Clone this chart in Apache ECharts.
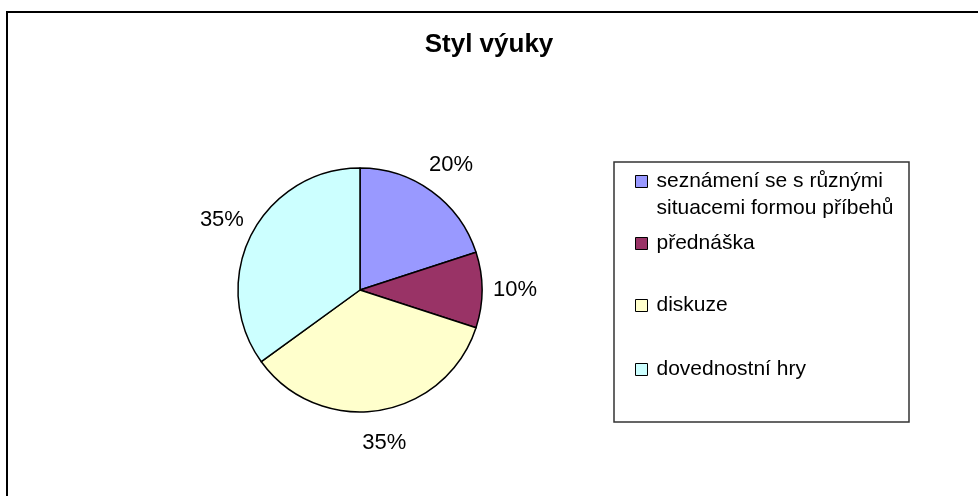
<!DOCTYPE html>
<html lang="cs">
<head>
  <meta charset="utf-8">
  <title>Styl výuky</title>
  <script src="https://cdn.jsdelivr.net/npm/echarts@6/dist/echarts.min.js"></script>
  <style>
    html, body { margin: 0; padding: 0; background: #fff; }
  </style>
</head>
<body>
<div id="main" style="width: 978px;height:496px;"></div>
<script type="text/javascript">
    // data
    var categories = ['seznámení se s různými situacemi formou příbehů', 'přednáška', 'diskuze', 'dovednostní hry'];
    var values = [20, 10, 35, 35];
    var colors = ['#9999FF', '#993366', '#FFFFCC', '#CCFFFF'];
    // leading blank line keeps the icon level with the first text line
    var legendLabels = ['\nseznámení se s různými\nsituacemi formou příbehů', 'přednáška', 'diskuze', 'dovednostní hry'];

    var font = '"Liberation Sans", Arial, sans-serif';
    var pieData = [];
    var ringData = [];
    for (var i = 0; i < categories.length; i++) {
        pieData.push({ name: categories[i], value: values[i], itemStyle: { color: colors[i] } });
        ringData.push({ name: categories[i], value: values[i] });
    }

    // one legend per item so the spacing follows the picture
    var legendTops = [141, 230, 292, 356];
    var legends = [];
    for (var j = 0; j < categories.length; j++) {
        legends.push({
            data: [categories[j]],
            left: 635,
            top: legendTops[j],
            padding: 0,
            icon: 'rect',
            itemWidth: 12,
            itemHeight: 12,
            itemStyle: { borderColor: '#000', borderWidth: 1 },
            formatter: (function (k) { return function () { return legendLabels[k]; }; })(j),
            textStyle: {
                fontFamily: font,
                fontSize: 21,
                color: '#000',
                lineHeight: 27,
                padding: [0, 0, 0, 4]
            },
            selectedMode: false
        });
    }

    var myChart = echarts.init(document.getElementById('main'));
    var option = {
        animation: false,
        backgroundColor: '#fff',
        title: {
            text: 'Styl výuky',
            left: 'center',
            top: 32,
            padding: 0,
            textStyle: { fontFamily: font, fontSize: 26, fontWeight: 'bold', color: '#000' }
        },
        legend: legends,
        graphic: [{
            type: 'rect',
            shape: { x: 7, y: 12, width: 1000, height: 600 },
            style: { fill: 'none', stroke: '#000', lineWidth: 2 },
            silent: true
        }, {
            type: 'rect',
            shape: { x: 614, y: 162, width: 295, height: 260 },
            style: { fill: 'none', stroke: '#333', lineWidth: 1.5 },
            silent: true
        }],
        series: [{
            name: 'Styl výuky',
            type: 'pie',
            center: [360, 290],
            radius: 122,
            startAngle: 90,
            clockwise: true,
            silent: true,
            itemStyle: { borderColor: '#000', borderWidth: 1.5 },
            label: { show: false },
            labelLine: { show: false },
            data: pieData
        }, {
            // transparent ring that only carries the percentage labels
            name: 'labels',
            type: 'pie',
            center: [360, 290],
            radius: [134, 170],
            startAngle: 90,
            clockwise: true,
            silent: true,
            itemStyle: { color: 'rgba(0,0,0,0)', borderWidth: 0 },
            label: {
                show: true,
                position: 'inside',
                formatter: '{d}%',
                fontFamily: font,
                fontSize: 22,
                color: '#000'
            },
            labelLine: { show: false },
            data: ringData
        }]
    };
    myChart.setOption(option);
</script>
</body>
</html>
